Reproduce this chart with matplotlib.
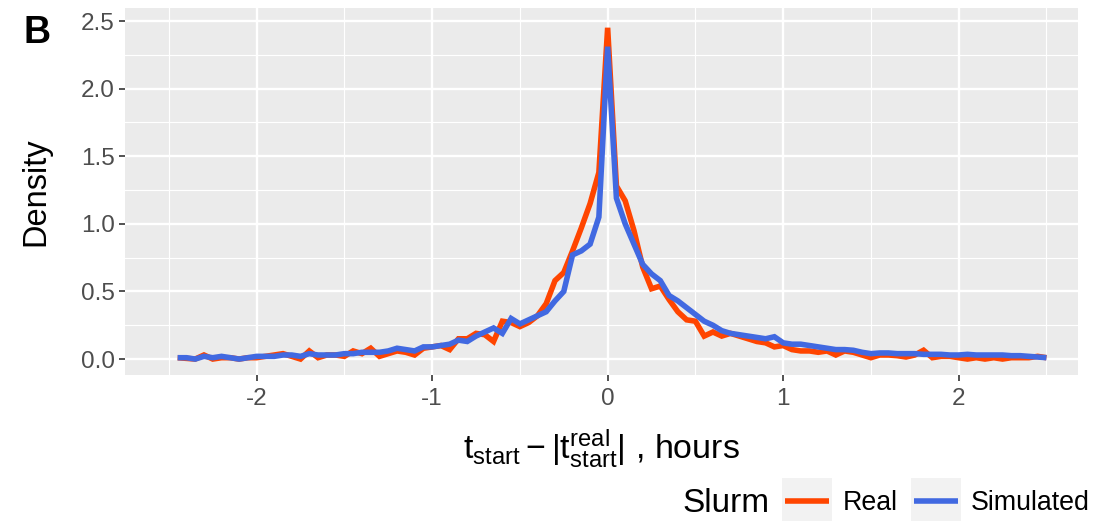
import numpy as np
import matplotlib
matplotlib.use("Agg")
import matplotlib.pyplot as plt
from matplotlib.patches import Rectangle

plt.rcParams['font.family'] = ['Liberation Sans', 'DejaVu Sans']
plt.rcParams['axes.unicode_minus'] = False
plt.rcParams['mathtext.fontset'] = 'custom'
plt.rcParams['mathtext.rm'] = 'Liberation Sans'
plt.rcParams['mathtext.it'] = 'Liberation Sans'

# bin centres, hours
hours = [-2.45, -2.40, -2.35, -2.30, -2.25, -2.20, -2.15, -2.10, -2.05, -2.00,
         -1.95, -1.90, -1.85, -1.80, -1.75, -1.70, -1.65, -1.60, -1.55, -1.50,
         -1.45, -1.40, -1.35, -1.30, -1.25, -1.20, -1.15, -1.10, -1.05, -1.00,
         -0.95, -0.90, -0.85, -0.80, -0.75, -0.70, -0.65, -0.60, -0.55, -0.50,
         -0.45, -0.40, -0.35, -0.30, -0.25, -0.20, -0.15, -0.10, -0.05, 0.00,
         0.05, 0.10, 0.15, 0.20, 0.25, 0.30, 0.35, 0.40, 0.45, 0.50,
         0.55, 0.60, 0.65, 0.70, 0.75, 0.80, 0.85, 0.90, 0.95, 1.00,
         1.05, 1.10, 1.15, 1.20, 1.25, 1.30, 1.35, 1.40, 1.45, 1.50,
         1.55, 1.60, 1.65, 1.70, 1.75, 1.80, 1.85, 1.90, 1.95, 2.00,
         2.05, 2.10, 2.15, 2.20, 2.25, 2.30, 2.35, 2.40, 2.45, 2.50]

real = [0.01, 0.005, 0.00, 0.03, 0.00, 0.01, 0.01, 0.00, 0.01, 0.01,
        0.02, 0.03, 0.04, 0.02, 0.00, 0.06, 0.01, 0.03, 0.03, 0.02,
        0.06, 0.04, 0.08, 0.02, 0.04, 0.06, 0.05, 0.03, 0.08, 0.09,
        0.10, 0.07, 0.15, 0.15, 0.19, 0.18, 0.13, 0.28, 0.27, 0.24,
        0.27, 0.32, 0.41, 0.58, 0.64, 0.80, 0.97, 1.15, 1.38, 2.45,
        1.28, 1.17, 0.95, 0.68, 0.52, 0.54, 0.44, 0.35, 0.29, 0.28,
        0.17, 0.20, 0.17, 0.19, 0.17, 0.15, 0.13, 0.12, 0.09, 0.10,
        0.07, 0.06, 0.06, 0.05, 0.06, 0.03, 0.06, 0.05, 0.03, 0.01,
        0.03, 0.03, 0.025, 0.015, 0.03, 0.065, 0.01, 0.02, 0.02, 0.01,
        0.00, 0.01, 0.00, 0.01, 0.00, 0.01, 0.01, 0.01, 0.02, 0.01]

simulated = [0.01, 0.01, 0.00, 0.02, 0.01, 0.02, 0.01, 0.00, 0.01, 0.02,
             0.02, 0.02, 0.03, 0.03, 0.02, 0.04, 0.03, 0.03, 0.03, 0.04,
             0.04, 0.05, 0.05, 0.05, 0.06, 0.08, 0.07, 0.06, 0.09, 0.09,
             0.10, 0.11, 0.14, 0.13, 0.17, 0.20, 0.23, 0.19, 0.30, 0.26,
             0.29, 0.32, 0.35, 0.43, 0.50, 0.77, 0.80, 0.85, 1.05, 2.31,
             1.19, 1.00, 0.85, 0.70, 0.63, 0.58, 0.47, 0.43, 0.38, 0.33,
             0.28, 0.25, 0.21, 0.19, 0.18, 0.17, 0.16, 0.15, 0.165, 0.12,
             0.11, 0.11, 0.10, 0.09, 0.08, 0.07, 0.07, 0.065, 0.05, 0.04,
             0.045, 0.045, 0.04, 0.04, 0.04, 0.035, 0.035, 0.035, 0.03, 0.03,
             0.035, 0.03, 0.03, 0.03, 0.03, 0.025, 0.025, 0.02, 0.015, 0.01]

series_names = ["Real", "Simulated"]
series_colors = ["#FF4500", "#4169E1"]
x_ticks = [-2, -1, 0, 1, 2]
y_ticks = [0.0, 0.5, 1.0, 1.5, 2.0, 2.5]

fig = plt.figure(figsize=(11.14, 5.21), dpi=100)
ax = fig.add_axes([0.1122, 0.2802, 0.8555, 0.7044])
ax.set_facecolor("#EBEBEB")

for ys, name, col in zip([real, simulated], series_names, series_colors):
    ax.plot(hours, ys, color=col, lw=4.0, label=name, solid_joinstyle='miter',
            solid_capstyle='butt', zorder=3)

ax.set_xlim(-2.75, 2.68)
ax.set_ylim(-0.118, 2.596)
ax.set_xticks(x_ticks)
ax.set_xticklabels([str(t) for t in x_ticks])
ax.set_yticks(y_ticks)
ax.set_yticklabels([f"{t:.1f}" for t in y_ticks])
ax.set_xticks([-2.5, -1.5, -0.5, 0.5, 1.5, 2.5], minor=True)
ax.set_yticks([0.25, 0.75, 1.25, 1.75, 2.25], minor=True)
ax.grid(which='major', color='white', lw=1.7)
ax.grid(which='minor', color='white', lw=0.85)
ax.set_axisbelow(True)
for s in ax.spines.values():
    s.set_visible(False)
ax.tick_params(which='major', length=4, width=1.2, color='#333333',
               labelcolor='#4D4D4D', labelsize=17.5)
ax.tick_params(axis='x', which='major', pad=5)
ax.tick_params(axis='y', which='major', pad=3.5)
ax.tick_params(which='minor', length=0)

ax.set_ylabel("Density", fontsize=23.5)
ax.yaxis.set_label_coords(-0.077, 0.5)
ax.set_xlabel(r"$\mathregular{t_{start} - |t^{real}_{start}|}$ , hours",
              fontsize=24.5)
ax.xaxis.set_label_coords(0.5, -0.143)

fig.text(0.021, 0.918, "B", fontsize=27, fontweight='bold')

fig.text(0.613, 0.0345, "Slurm", fontsize=24, va='center')
leg = fig.legend(loc='center right', bbox_to_anchor=(0.9905, 0.0345), ncol=2,
                 frameon=False, fontsize=19.3, handlelength=1.65, borderpad=0,
                 handletextpad=0.5, columnspacing=0.6)
for ln in leg.get_lines():
    ln.set_linewidth(4.0)

# ggplot-style grey key boxes behind legend lines
fig.canvas.draw()
renderer = fig.canvas.get_renderer()
for ln in leg.get_lines():
    bb = ln.get_window_extent(renderer)
    cx, cy = (bb.x0 + bb.x1) / 2, (bb.y0 + bb.y1) / 2
    w, h = 50, 46
    (fx, fy) = fig.transFigure.inverted().transform((cx - w / 2, cy - h / 2))
    fw, fh = w / fig.bbox.width, h / fig.bbox.height
    fig.add_artist(Rectangle((fx, fy), fw, fh, transform=fig.transFigure,
                             facecolor='#F2F2F2', edgecolor='none', zorder=0))

fig.savefig("out.png", dpi=100)
